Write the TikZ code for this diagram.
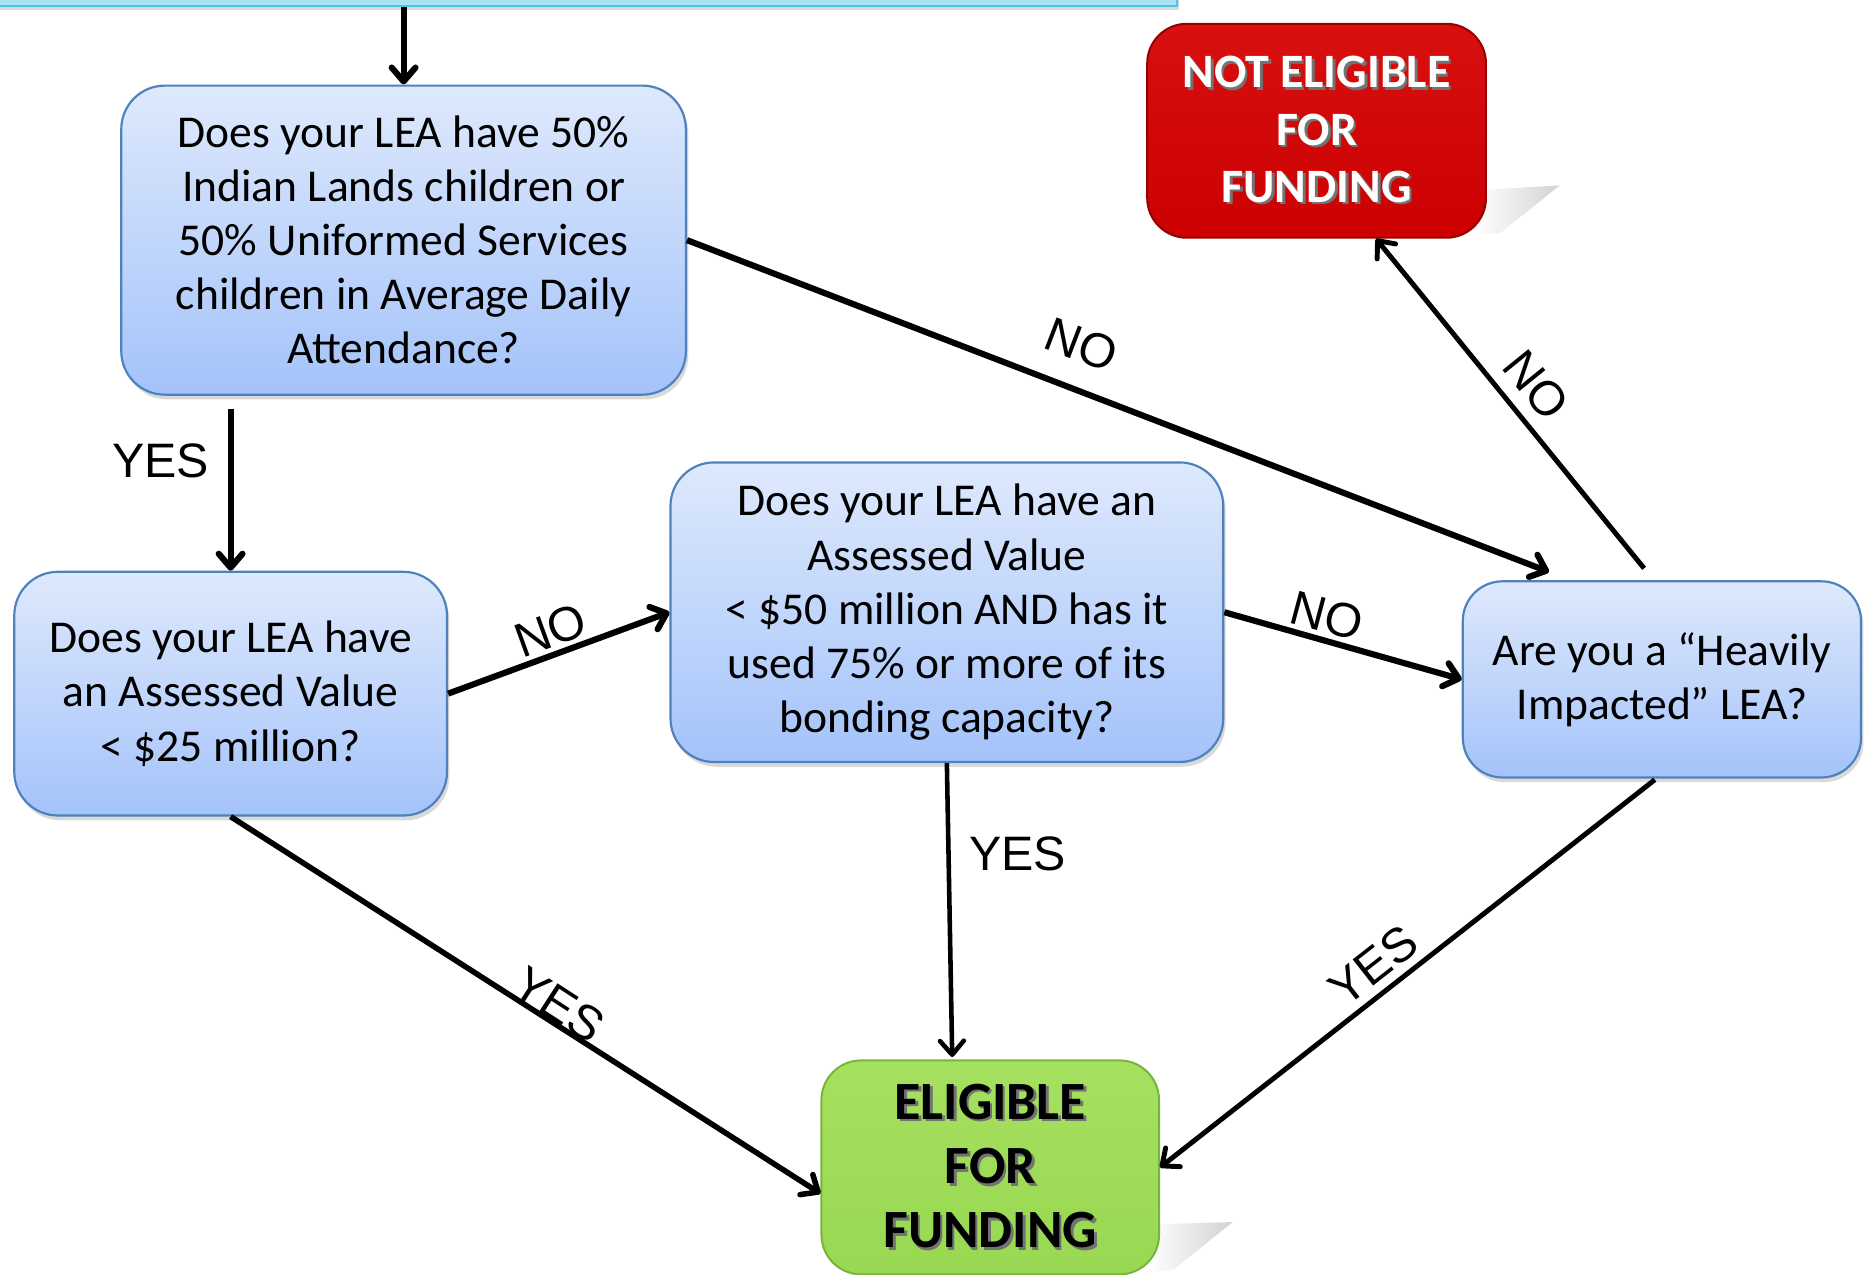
\documentclass[tikz,border=0pt]{standalone}
\usepackage{fontspec}
\setmainfont{Carlito}
\newfontfamily\lblfont{Liberation Sans}
\usetikzlibrary{arrows.meta,shadows,calc,fadings}
\definecolor{qborder}{RGB}{79,129,189}
\definecolor{qtop}{RGB}{222,233,252}
\definecolor{qbot}{RGB}{164,195,250}
\definecolor{topfill}{RGB}{168,228,245}
\definecolor{topborder}{RGB}{80,195,228}
\definecolor{redfill}{RGB}{204,0,0}
\definecolor{redtop}{RGB}{216,16,16}
\definecolor{redborder}{RGB}{150,0,0}
\definecolor{greenfill}{RGB}{152,216,82}
\definecolor{greentop}{RGB}{166,224,96}
\definecolor{greenborder}{RGB}{118,180,60}
\newcommand\tsh[1]{\leavevmode\rlap{\kern1.3pt\raisebox{-1.3pt}{\color{black!55}#1}}#1}
\tikzset{
  qbox/.style={draw=qborder, line width=1.1pt, rounded corners=22pt,
    top color=qtop, bottom color=qbot, align=center, inner sep=0pt,
    font=\fontsize{23}{27.3}\selectfont,
    drop shadow={shadow xshift=1.2pt, shadow yshift=-2.4pt, opacity=0.3}},
  endred/.style={draw=redborder, line width=1pt, rounded corners=20pt,
    top color=redtop, bottom color=redfill, align=center, inner sep=0pt,
    text=white, font=\fontsize{24.2}{28.8}\selectfont\bfseries},
  endgreen/.style={draw=greenborder, line width=1pt, rounded corners=20pt,
    top color=greentop, bottom color=greenfill, align=center, inner sep=0pt,
    text=black, font=\fontsize{27.2}{32.4}\selectfont\bfseries},
  conn/.style={line width=3.1pt, -{Straight Barb[length=7pt,width=12pt,round]}},
  lbl/.style={font=\lblfont\fontsize{24.4}{28}\selectfont, inner sep=0pt},
}
\begin{document}
\begin{tikzpicture}[x=0.6pt,y=-0.6pt]
\useasboundingbox (0,0) rectangle (1568,1072.5);
% perspective shadows of end boxes
\fill[gray, opacity=0.35, path fading=west] (1240,160) -- (1312,156) -- (1262,196) -- (1240,198) -- cycle;
\fill[gray, opacity=0.35, path fading=west] (965,1030) -- (1037,1028) -- (987,1068) -- (965,1070) -- cycle;
% top box
\node[draw=topborder, line width=1.2pt, fill=topfill, minimum width=600pt, minimum height=15.6pt, inner sep=0pt,
  drop shadow={shadow xshift=1pt, shadow yshift=-2pt, opacity=0.3}] (top) at (490,-8) {};
% question boxes
\node[qbox, minimum width=285pt, minimum height=156pt] (q1) at (339.5,202)
  {Does your LEA have 50\%\\Indian Lands children or\\50\% Uniformed Services\\children in Average Daily\\Attendance?};
\node[qbox, minimum width=218.4pt, minimum height=123pt] (q2) at (194,583.5)
  {Does your LEA have\\an Assessed Value\\< \$25 million?};
\node[qbox, minimum width=279pt, minimum height=151.2pt] (q3) at (796.5,515)
  {Does your LEA have an\\Assessed Value\\< \$50 million AND has it\\used 75\% or more of its\\bonding capacity?};
\node[qbox, rounded corners=20pt, minimum width=201pt, minimum height=99pt] (q4) at (1398,571.5)
  {Are you a “Heavily\\Impacted” LEA?};
% end boxes
\node[endred, minimum width=171pt, minimum height=108pt] (ne) at (1107.5,110)
  {\tsh{NOT ELIGIBLE}\\\tsh{FOR}\\\tsh{FUNDING}};
\node[endgreen, minimum width=170.4pt, minimum height=108pt] (el) at (833,982)
  {\tsh{ELIGIBLE}\\\tsh{FOR}\\\tsh{FUNDING}};
% connectors
\draw[conn] (top.south -| q1.north) -- (q1.north);
\draw[conn] ($(q1.south -| q2.north)+(0,11)$) -- (q2.north);
\draw[conn] (q1.east) -- ($(q4.north)+(-95,-7)$);
\draw[conn] (q2.east) -- (q3.west);
\draw[conn] (q3.east) -- (q4.west);
\draw[conn, line width=2.5pt] ($(q4.north)+(-15,-10)$) -- ($(ne.south)+(50,0)$);
\draw[conn, line width=2.3pt] (q3.south) -- ($(el.north)+(-32,-2)$);
\draw[conn, line width=2.8pt] (q2.south) -- ($(el.west)+(0,22)$);
\draw[conn, line width=2.5pt] ($(q4.south)+(-6,1)$) -- (el.east);
% labels
\node[lbl] (l1) at (135,388) {YES};
\node[lbl, rotate=-21] (l2) at (910,290) {NO};
\node[lbl, rotate=20] (l3) at (463,530) {NO};
\node[lbl, rotate=-15] (l4) at (1116,518) {NO};
\node[lbl, rotate=-51] (l5) at (1292,324) {NO};
\node[lbl] (l6) at (856,718) {YES};
\node[lbl, rotate=-33] (l7) at (470,845) {YES};
\node[lbl, rotate=38] (l8) at (1155,812) {YES};
\end{tikzpicture}
\end{document}
